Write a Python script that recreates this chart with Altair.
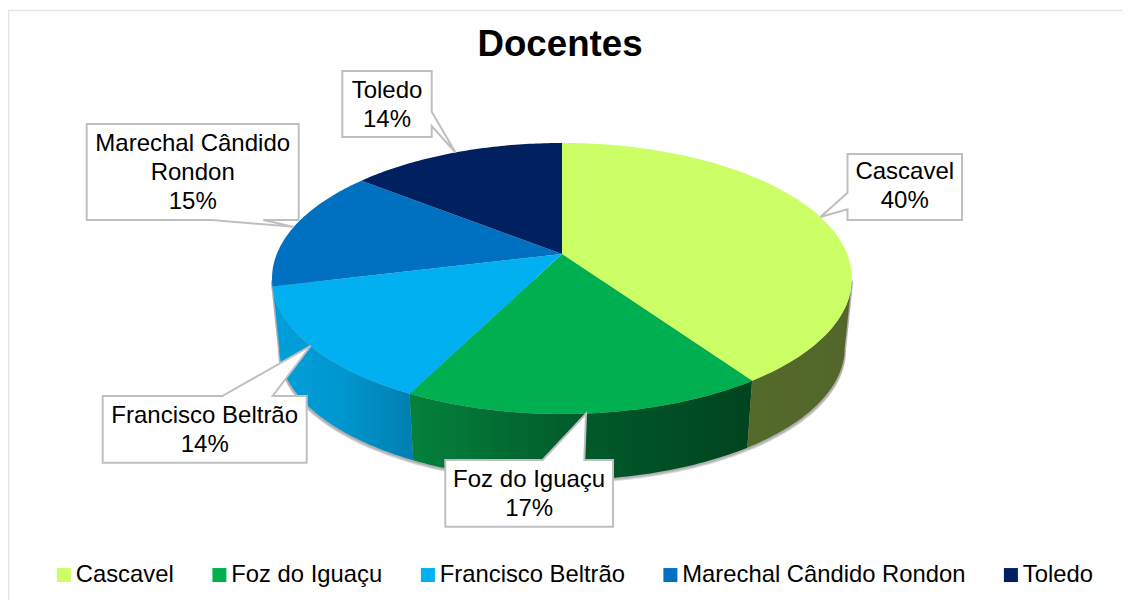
import math
import altair as alt

names = ["Cascavel", "Foz do Iguaçu", "Francisco Beltrão", "Marechal Cândido Rondon", "Toledo"]
shares = [40.4, 17.0, 13.8, 14.5, 14.3]
top_colors = ["#CCFF66", "#00B050", "#00B0F0", "#0070C0", "#002060"]
title_text = "Docentes"

FONT = "Liberation Sans"
CX, CY, RX, RY, K = 562.0, 254.0, 285.2, 131.07, 0.1808
WALL_SCALE, WALL_DROP = 0.975, 70.0
T_RIGHT, T_LEFT = 100.4, 259.6


def rim(t, wall=False):
    a = math.radians(t)
    u, v = math.sin(a), math.cos(a)
    d = 1 + K * v
    x, y = RX * u / d, -RY * v / d
    if wall:
        return [CX + x * WALL_SCALE, CY + y * WALL_SCALE + WALL_DROP]
    return [CX + x, CY + y]


def arc_pts(t0, t1, wall=False, n=60):
    return [rim(t0 + (t1 - t0) * i / n, wall) for i in range(n + 1)]


def feature(ring, **props):
    return {"type": "Feature", "properties": props,
            "geometry": {"type": "Polygon", "coordinates": [ring + [ring[0]]]}}


PROJ = dict(type="identity", scale=1, translate=[-8, -68])


def geo(features):
    return alt.Chart(alt.Data(values=features)).project(**PROJ)


def grad(c0, c1, c2=None):
    stops = [alt.GradientStop(color=c0, offset=0)]
    if c2:
        stops.append(alt.GradientStop(color=c1, offset=0.5))
        stops.append(alt.GradientStop(color=c2, offset=1))
    else:
        stops.append(alt.GradientStop(color=c1, offset=1))
    return alt.Gradient(gradient="linear", x1=0, x2=1, y1=0, y2=0, stops=stops)


edges = [0]
for s in shares:
    edges.append(edges[-1] + s * 3.6)

wall_fills = [
    grad("#546A2A", "#52662A"),
    grad("#04823C", "#015A2A", "#00441F"),
    grad("#00A0DC", "#0096CE", "#007FB2"),
]

layers = []

# frame
layers.append(alt.Chart(alt.Data(values=[{"a": 0}])).mark_rule(stroke="#E4E4E4", strokeWidth=1.5)
              .encode(x=alt.value(0), x2=alt.value(1114), y=alt.value(-57.5)))
layers.append(alt.Chart(alt.Data(values=[{"a": 0}])).mark_rule(stroke="#E4E4E4", strokeWidth=1.5)
              .encode(x=alt.value(0.5), y=alt.value(-58), y2=alt.value(532)))

# soft shadow under the walls
for dy in [3.5, 2.5, 1.5]:
    pts = [rim(T_RIGHT)] + arc_pts(T_RIGHT, T_LEFT, True, 180) + [rim(T_LEFT)]
    ring = [[CX + (p[0] - CX) * 1.004, p[1] + dy] for p in pts]
    layers.append(geo([feature(ring)]).mark_geoshape(fill="#808080", opacity=0.28))

# side walls
wall_ranges = [
    (T_RIGHT, edges[1]),
    (edges[1], edges[2]),
    (edges[2], T_LEFT),
]
for i in [2, 1, 0]:
    t0, t1 = wall_ranges[i]
    ring = arc_pts(t0, t1) + arc_pts(t1, t0, True)
    layers.append(geo([feature(ring)]).mark_geoshape(fill=wall_fills[i]))

# top faces
tops = [feature([[CX, CY]] + arc_pts(edges[i], edges[i + 1]), name=names[i]) for i in range(5)]
layers.append(
    geo(tops).mark_geoshape(strokeWidth=0).encode(
        color=alt.Color(
            "properties.name:N",
            scale=alt.Scale(domain=names, range=top_colors),
            legend=alt.Legend(
                title=None, orient="none", direction="horizontal", columns=5,
                legendX=44, legendY=495, columnPadding=33.5,
                symbolType="square", symbolSize=196, symbolStrokeWidth=0,
                labelFont=FONT, labelFontSize=23.8, labelColor="#000000",
                labelOffset=0, labelLimit=400,
            ),
        )
    )
)

# callouts: box (x0, y0, x1, y1), side of the pointer, pointer base positions
boxes = [
    (847.5, 154, 962, 220, "left", 192.7, 209.3),
    (445.3, 460, 613, 526.7, "top", 542.7, 584.3),
    (102.7, 396, 306.7, 462.7, "top", 222.3, 272.7),
    (86.7, 124, 298.7, 220, "bottom", 211.7, 263.3),
    (342.3, 71, 431.7, 137, "right", 111.7, 126),
]
label_lines = [
    (["Cascavel", "40%"], 172),
    (["Foz do Iguaçu", "17%"], 480),
    (["Francisco Beltrão", "14%"], 416),
    (["Marechal Cândido", "Rondon", "15%"], 144),
    (["Toledo", "14%"], 91),
]

callouts, text_rows = [], []
for i, (x0, y0, x1, y1, side, a, b) in enumerate(boxes):
    tip = rim((edges[i] + edges[i + 1]) / 2)
    if side == "left":
        ring = [[x0, y0], [x1, y0], [x1, y1], [x0, y1], [x0, b], tip, [x0, a]]
    elif side == "right":
        ring = [[x0, y0], [x1, y0], [x1, a], tip, [x1, b], [x1, y1], [x0, y1]]
    elif side == "top":
        ring = [[x0, y0], [a, y0], tip, [b, y0], [x1, y0], [x1, y1], [x0, y1]]
    else:
        ring = [[x0, y0], [x1, y0], [x1, y1], [b, y1], tip, [a, y1], [x0, y1]]
    callouts.append(feature(ring))
    lines, y_first = label_lines[i]
    for j, ln in enumerate(lines):
        text_rows.append({"t": ln, "lon": (x0 + x1) / 2, "lat": y_first + j * 29})

layers.append(geo(callouts).mark_geoshape(fill="#FFFFFF", stroke="#BFBFBF", strokeWidth=2))
layers.append(
    alt.Chart(alt.Data(values=text_rows)).project(**PROJ)
    .mark_text(font=FONT, fontSize=24, color="#000000", baseline="middle", align="center")
    .encode(longitude="lon:Q", latitude="lat:Q", text="t:N")
)

chart = (
    alt.layer(*layers)
    .properties(
        width=1114, height=532,
        padding={"left": 0, "top": 60, "right": 0, "bottom": 0},
        autosize=alt.AutoSizeParams(type="none"),
        background="#FFFFFF",
        title=alt.TitleParams(title_text, font=FONT, fontSize=36.7, fontWeight="bold",
                              color="#000000", anchor="middle", dx=-5, offset=-54),
    )
    .configure_view(stroke=None)
)

chart.save("out.html", embed_options={"renderer": "svg", "actions": False})
